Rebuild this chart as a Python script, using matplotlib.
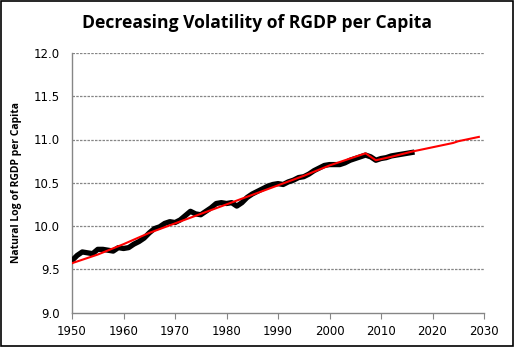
import matplotlib
matplotlib.use("Agg")
import numpy as np
import matplotlib.pyplot as plt
from matplotlib.patches import Rectangle

# actual series, log of real GDP per capita
years = list(range(1950, 2017))
log_rgdp = [9.60, 9.66, 9.70, 9.69, 9.68, 9.73, 9.73, 9.72, 9.71, 9.75,
            9.74, 9.75, 9.79, 9.82, 9.86, 9.92, 9.97, 9.99, 10.03, 10.05,
            10.04, 10.07, 10.12, 10.17, 10.14, 10.13, 10.17, 10.21, 10.26, 10.27,
            10.26, 10.27, 10.23, 10.27, 10.33, 10.37, 10.40, 10.43, 10.46, 10.48,
            10.49, 10.48, 10.51, 10.53, 10.56, 10.57, 10.60, 10.64, 10.67, 10.70,
            10.71, 10.71, 10.71, 10.73, 10.76, 10.78, 10.80, 10.82, 10.80, 10.76,
            10.78, 10.79, 10.81, 10.82, 10.83, 10.84, 10.85]

# trend line
trend_years = [1950, 1955, 1960, 1965, 1970, 1975, 1980, 1985, 1990, 1995,
               2000, 2005, 2007, 2009, 2012, 2016, 2020, 2024, 2025, 2029]
trend = [9.57, 9.67, 9.79, 9.92, 10.03, 10.14, 10.25, 10.36, 10.47, 10.58,
         10.70, 10.80, 10.84, 10.76, 10.80, 10.86, 10.91, 10.96, 10.98, 11.03]

xticks = list(range(1950, 2031, 10))
yticks = [9.0, 9.5, 10.0, 10.5, 11.0, 11.5, 12.0]

fig = plt.figure(figsize=(5.14, 3.47), dpi=100)
ax = fig.add_axes([72/514, 1-312.5/347, 412/514, 259.5/347])

ax.plot(years, log_rgdp, color='black', lw=3.8, solid_joinstyle='round', zorder=3)
ax.plot(trend_years, trend, color='#ff0000', lw=1.5, zorder=4)

ax.set_xlim(1950, 2030)
ax.set_ylim(9.0, 12.0)
ax.set_xticks(xticks)
ax.set_yticks(yticks)
ax.set_yticklabels(['%.1f' % v for v in yticks])

for v in yticks[1:]:
    ax.axhline(v, color='#868686', lw=0.9, ls=(0, (2, 1)), zorder=1)

for s in ['top', 'right']:
    ax.spines[s].set_visible(False)
for s in ['left', 'bottom']:
    ax.spines[s].set_color('#868686')
    ax.spines[s].set_linewidth(1.0)

ax.tick_params(axis='x', direction='out', length=4, color='#868686',
               labelsize=8.5, pad=5)
ax.tick_params(axis='y', length=0, labelsize=8.5, pad=9)
for lab in ax.get_xticklabels() + ax.get_yticklabels():
    lab.set_family('DejaVu Sans')

ax.set_ylabel('Natural Log of RGDP per Capita', fontsize=7.5, fontweight='bold',
              family='Open Sans', labelpad=8)

fig.text(0.5, 1-23/347, 'Decreasing Volatility of RGDP per Capita', ha='center',
         va='center', fontsize=12.6, fontweight='bold', family='Open Sans')

fig.patches.append(Rectangle((0.001, 0.002), 0.997, 0.995, transform=fig.transFigure,
                             fill=False, edgecolor='black', lw=1.2))

fig.savefig('out.png', dpi=100)
